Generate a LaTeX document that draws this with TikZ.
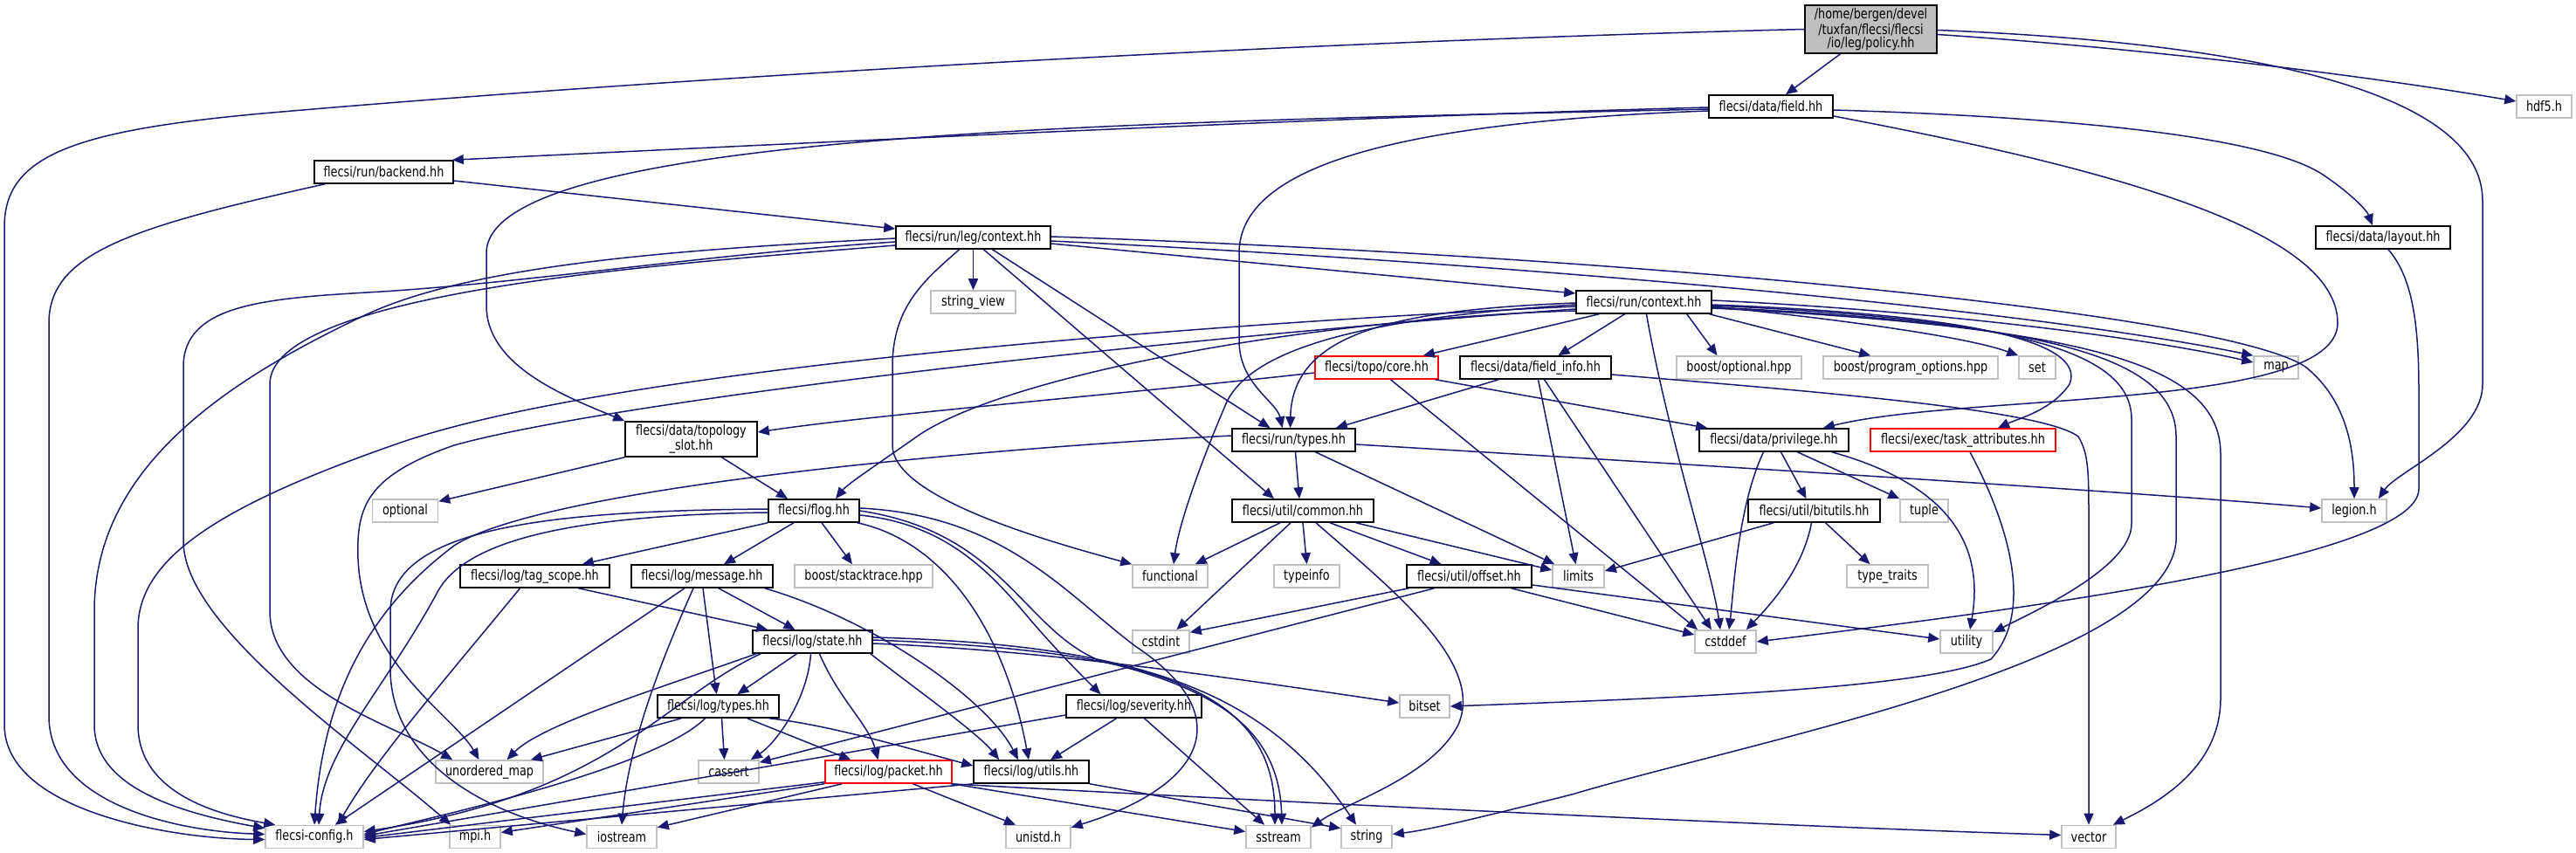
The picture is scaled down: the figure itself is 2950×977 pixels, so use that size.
\documentclass[tikz,border=0pt]{standalone}
\usepackage{fontspec}
\newfontfamily\dfont[FakeStretch=0.8]{DejaVu Sans}
\usetikzlibrary{arrows.meta,calc}
\definecolor{edgec}{HTML}{191970}
\definecolor{sysgray}{HTML}{BFBFBF}
\definecolor{hotred}{HTML}{FF0000}
\begin{document}
\begin{tikzpicture}[x=0.5pt,y=-0.5pt,
  nd/.style={draw=black, line width=0.8pt, fill=white, inner sep=0pt, minimum height=13pt,
    font=\dfont\fontsize{8}{7.6}\selectfont, align=center},
  sys/.style={nd, draw=sysgray},
  hot/.style={nd, draw=hotred},
  wd/.style={minimum width=#1*0.5pt},
  e/.style={draw=edgec, line width=0.75pt, -{Triangle[length=6.5pt,width=5.5pt]}, fill=none}]
\fill[white] (0,0) rectangle (2950,977);
\useasboundingbox (0,0) rectangle (2950,977);

% ---------- nodes ----------
\node[nd, fill=sysgray, wd=151, minimum height=27.5pt] (policy) at (2142.5,33.5) {/home/bergen/devel\\/tuxfan/flecsi/flecsi\\/io/leg/policy.hh};
\node[nd, wd=142] (field) at (2028,122) {flecsi/data/field.hh};
\node[sys, wd=63] (hdf5) at (2913.5,122) {hdf5.h};
\node[nd, wd=159] (backend) at (439.5,197) {flecsi/run/backend.hh};
\node[nd, wd=177] (legctx) at (1114.5,272) {flecsi/run/leg/context.hh};
\node[nd, wd=154] (layout) at (2729,272) {flecsi/data/layout.hh};
\node[sys, wd=97] (stringview) at (1114.5,346) {string\_view};
\node[nd, wd=155] (runctx) at (1882.5,346) {flecsi/run/context.hh};
\node[hot, wd=141] (topocore) at (1576.5,421) {flecsi/topo/core.hh};
\node[nd, wd=173] (fieldinfo) at (1758.5,421) {flecsi/data/field\_info.hh};
\node[sys, wd=143] (boostopt) at (1991.5,421) {boost/optional.hpp};
\node[sys, wd=200] (progopt) at (2188,421) {boost/program\_options.hpp};
\node[sys, wd=42] (set) at (2333,421) {set};
\node[sys, wd=51] (map) at (2606.5,421) {map};
\node[nd, wd=151, minimum height=20pt] (topslot) at (791.5,503) {flecsi/data/topology\\\_slot.hh};
\node[nd, wd=141] (runtypes) at (1481.5,504) {flecsi/run/types.hh};
\node[nd, wd=171] (privilege) at (2031.5,504) {flecsi/data/privilege.hh};
\node[hot, wd=212] (taskattr) at (2248,504) {flecsi/exec/task\_attributes.hh};
\node[sys, wd=75] (optional) at (464,585) {optional};
\node[nd, wd=104] (flog) at (932,585) {flecsi/flog.hh};
\node[nd, wd=162] (common) at (1492,585) {flecsi/util/common.hh};
\node[nd, wd=151] (bitutils) at (2077.5,585) {flecsi/util/bitutils.hh};
\node[sys, wd=55] (tuple) at (2203.5,585) {tuple};
\node[sys, wd=74] (legion) at (2696,585) {legion.h};
\node[nd, wd=171] (tagscope) at (612.5,660) {flecsi/log/tag\_scope.hh};
\node[nd, wd=162] (message) at (804,660) {flecsi/log/message.hh};
\node[sys, wd=158] (stacktrace) at (989,660) {boost/stacktrace.hpp};
\node[sys, wd=86] (functional) at (1340,660) {functional};
\node[sys, wd=75] (typeinfo) at (1496.5,660) {typeinfo};
\node[nd, wd=143] (offset) at (1682.5,660) {flecsi/util/offset.hh};
\node[sys, wd=59] (limits) at (1807.5,660) {limits};
\node[sys, wd=93] (typetraits) at (2161.5,660) {type\_traits};
\node[nd, wd=137] (state) at (930.5,735) {flecsi/log/state.hh};
\node[sys, wd=65] (cstdint) at (1329.5,735) {cstdint};
\node[sys, wd=70] (cstddef) at (1976,735) {cstddef};
\node[sys, wd=60] (utility) at (2252,735) {utility};
\node[nd, wd=139] (logtypes) at (822.5,809) {flecsi/log/types.hh};
\node[nd, wd=155] (severity) at (1298.5,809) {flecsi/log/severity.hh};
\node[sys, wd=57] (bitset) at (1631.5,809) {bitset};
\node[sys, wd=123] (unordmap) at (560.5,884) {unordered\_map};
\node[sys, wd=69] (cassert) at (834.5,884) {cassert};
\node[hot, wd=145] (packet) at (1017.5,884) {flecsi/log/packet.hh};
\node[nd, wd=132] (utils) at (1181,884) {flecsi/log/utils.hh};
\node[sys, wd=112] (config) at (360,958.5) {flecsi-config.h};
\node[sys, wd=58] (mpi) at (544,958.5) {mpi.h};
\node[sys, wd=80] (iostream) at (712,958.5) {iostream};
\node[sys, wd=74] (unistd) at (1189,958.5) {unistd.h};
\node[sys, wd=74] (sstream) at (1464,958.5) {sstream};
\node[sys, wd=58] (string) at (1565,958.5) {string};
\node[sys, wd=62] (vector) at (2392,958.5) {vector};

% ---------- edges ----------
% policy
\draw[e] (policy.west) .. controls (1400,50) and (700,95) .. (300,130) .. controls (80,150) and (5,180) .. (5,260) -- (5,830) .. controls (5,930) and (200,961) .. ($(config.west)+(0,3)$);
\draw[e] ($(policy.south)+(-35,0)$) -- ($(field.north)+(17,0)$);
\draw[e] ($(policy.east)+(0,6)$) .. controls (2450,55) and (2700,85) .. ($(hdf5.west)+(0,-6)$);
\draw[e] ($(policy.east)+(0,1)$) .. controls (2600,50) and (2843,110) .. (2843,230) -- (2843,440) .. controls (2843,500) and (2745,540) .. ($(legion.north east)+(-10,0)$);
% field
\draw[e] ($(field.west)+(0,1)$) .. controls (1500,135) and (900,165) .. ($(backend.north east)+(-2,0)$);
\draw[e] ($(field.west)+(0,3)$) .. controls (1300,140) and (557,150) .. (557,290) -- (557,350) .. controls (557,420) and (650,455) .. (topslot.north west);
\draw[e] ($(field.west)+(0,5)$) .. controls (1600,140) and (1419,190) .. (1419,290) -- (1419,390) .. controls (1419,440) and (1462,460) .. ($(runtypes.north)+(-13,0)$);
\draw[e] ($(field.east)+(0,4)$) .. controls (2400,135) and (2600,160) .. (2660,200) .. controls (2690,220) and (2710,240) .. ($(layout.north)+(-12,0)$);
\draw[e] ($(field.east)+(0,11)$) .. controls (2400,190) and (2677,260) .. (2677,370) .. controls (2677,470) and (2250,450) .. ($(privilege.north east)+(-30,0)$);
% backend
\draw[e] ($(backend.south west)+(13,0)$) .. controls (150,260) and (56,290) .. (56,370) -- (56,820) .. controls (56,920) and (200,952) .. ($(config.west)+(0,-3)$);
\draw[e] ($(backend.east)+(0,10)$) -- ($(legctx.west)+(0,-10)$);
% leg context
\draw[e] ($(legctx.west)+(0,1)$) .. controls (800,285) and (550,300) .. (420,360) .. controls (250,440) and (108,540) .. (108,700) -- (108,830) .. controls (108,900) and (200,930) .. ($(config.north west)+(0,4)$);
\draw[e] ($(legctx.west)+(0,5)$) .. controls (800,292) and (600,325) .. (420,335) .. controls (300,342) and (210,350) .. (210,420) -- (210,620) .. controls (210,720) and (420,860) .. ($(mpi.north west)+(2,0)$);
\draw[e] ($(legctx.west)+(0,9)$) .. controls (800,300) and (309,330) .. (309,440) -- (309,700) .. controls (309,790) and (450,830) .. ($(unordmap.north west)+(20,0)$);
\draw[e] (legctx) -- (stringview);
\draw[e] ($(legctx.south)+(-16,0)$) .. controls (1060,320) and (1022,350) .. (1022,420) -- (1022,510) .. controls (1022,570) and (1200,620) .. (functional.north west);
\draw[e] ($(legctx.south)+(12,0)$) -- ($(common.north)+(-33,0)$);
\draw[e] ($(legctx.south)+(22,0)$) -- ($(runtypes.north)+(-27,0)$);
\draw[e] ($(legctx.east)+(0,7)$) -- ($(runctx.west)+(0,-10)$);
\draw[e] ($(legctx.east)+(0,4)$) .. controls (1700,300) and (2300,350) .. (map.north west);
\draw[e] ($(legctx.east)+(0,-1)$) .. controls (1900,295) and (2550,360) .. (2640,420) .. controls (2690,460) and (2696,520) .. (legion.north);
% run context
\draw[e] ($(runctx.west)+(0,5)$) .. controls (1400,370) and (700,420) .. (450,510) .. controls (250,580) and (158,640) .. (158,720) -- (158,830) .. controls (158,900) and (230,930) .. ($(config.north west)+(12,0)$);
\draw[e] ($(runctx.west)+(0,8)$) .. controls (1300,390) and (700,460) .. (520,510) .. controls (420,545) and (408,580) .. (410,640) .. controls (415,760) and (520,820) .. ($(unordmap.north)+(-12,0)$);
\draw[e] ($(runctx.west)+(0,10)$) .. controls (1500,365) and (1150,430) .. (1050,500) .. controls (1000,535) and (970,555) .. ($(flog.north)+(25,0)$);
\draw[e] ($(runctx.west)+(0,1)$) .. controls (1600,355) and (1480,380) .. ($(runtypes.north)+(-4,0)$);
\draw[e] ($(runctx.west)+(0,3)$) .. controls (1600,362) and (1440,390) .. (1405,460) .. controls (1375,530) and (1350,600) .. ($(functional.north)+(4,0)$);
\draw[e] ($(runctx.south west)+(27,0)$) -- ($(topocore.north east)+(-18,0)$);
\draw[e] ($(runctx.south)+(-22,0)$) -- ($(fieldinfo.north)+(26,0)$);
\draw[e] ($(runctx.south east)+(-29,0)$) -- ($(boostopt.north)+(-25,0)$);
\draw[e] ($(runctx.south east)+(-3,0)$) -- ($(progopt.north west)+(55,0)$);
\draw[e] ($(runctx.east)+(0,5)$) .. controls (2100,365) and (2250,385) .. (set.north west);
\draw[e] ($(runctx.east)+(0,-2)$) .. controls (2200,355) and (2450,385) .. ($(map.west)+(0,-6)$);
\draw[e] ($(runctx.east)+(0,3)$) .. controls (2250,360) and (2390,390) .. (2370,440) .. controls (2350,470) and (2310,480) .. ($(taskattr.north)+(40,0)$);
\draw[e] ($(runctx.east)+(0,4)$) .. controls (2300,365) and (2441,400) .. (2441,480) -- (2441,600) .. controls (2441,650) and (2330,700) .. ($(utility.north east)+(0,3)$);
\draw[e] ($(runctx.east)+(0,6)$) .. controls (2350,370) and (2492,410) .. (2492,500) -- (2492,620) .. controls (2480,760) and (2000,850) .. (1800,910) .. controls (1700,935) and (1640,950) .. ($(string.east)+(0,-3)$);
\draw[e] ($(runctx.east)+(0,7)$) .. controls (2400,375) and (2543,420) .. (2543,520) -- (2543,800) .. controls (2543,880) and (2470,920) .. ($(vector.north east)+(-4,0)$);
\draw[e] ($(runctx.south)+(3,0)$) .. controls (1910,500) and (1960,650) .. ($(cstddef.north)+(-6,0)$);
% topo core
\draw[e] ($(topocore.west)+(0,6)$) .. controls (1300,450) and (1000,475) .. ($(topslot.east)+(0,-8)$);
\draw[e] ($(topocore.south east)+(-4,0)$) -- ($(privilege.north west)+(10,0)$);
\draw[e] ($(topocore.south)+(16,0)$) -- ($(cstddef.north west)+(4,0)$);
% field info
\draw[e] ($(fieldinfo.south west)+(45,0)$) -- ($(runtypes.north east)+(-23,0)$);
\draw[e] ($(fieldinfo.south)+(3,0)$) -- ($(limits.north)+(-3,0)$);
\draw[e] ($(fieldinfo.south)+(10,0)$) -- ($(cstddef.north)+(-16,0)$);
\draw[e] ($(fieldinfo.east)+(0,8)$) .. controls (2100,450) and (2340,470) .. (2380,500) .. controls (2392,520) and (2392,540) .. (2392,600) -- (vector.north);
% run types
\draw[e] ($(runtypes.west)+(0,-5)$) .. controls (1100,515) and (620,560) .. (520,625) .. controls (420,700) and (370,800) .. (config.north);
\draw[e] ($(runtypes.south)+(2,0)$) -- ($(common.north)+(-4,0)$);
\draw[e] ($(runtypes.south)+(25,0)$) -- ($(limits.north west)+(3,0)$);
\draw[e] ($(runtypes.east)+(0,5)$) .. controls (1900,530) and (2400,560) .. ($(legion.west)+(0,-3)$);
% privilege
\draw[e] ($(privilege.south)+(-12,0)$) .. controls (1990,580) and (1985,680) .. ($(cstddef.north)+(4,0)$);
\draw[e] ($(privilege.south)+(8,0)$) -- ($(bitutils.north)+(-9,0)$);
\draw[e] ($(privilege.south)+(27,0)$) -- (tuple.north west);
\draw[e] ($(privilege.south east)+(-20,0)$) .. controls (2250,560) and (2270,640) .. ($(utility.north)+(4,0)$);
% task attributes, layout
\draw[e] ($(taskattr.south)+(8,0)$) .. controls (2300,600) and (2330,700) .. (2280,755) .. controls (2200,790) and (1900,800) .. (bitset.east);
\draw[e] ($(layout.south)+(6,0)$) .. controls (2765,320) and (2770,380) .. (2770,450) -- (2770,560) .. controls (2770,640) and (2300,700) .. (cstddef.east);
% bitutils
\draw[e] ($(bitutils.south west)+(30,0)$) -- ($(limits.east)+(0,-6)$);
\draw[e] ($(bitutils.south)+(-3,0)$) .. controls (2065,650) and (2030,690) .. ($(cstddef.north east)+(-12,0)$);
\draw[e] ($(bitutils.south)+(13,0)$) -- ($(typetraits.north)+(-20,0)$);
% util common
\draw[e] ($(common.south)+(-26,0)$) -- ($(functional.north east)+(-15,0)$);
\draw[e] ($(common.south)+(-14,0)$) -- ($(cstdint.north)+(18,0)$);
\draw[e] (common.south) -- (typeinfo.north);
\draw[e] ($(common.south)+(15,0)$) .. controls (1600,680) and (1700,760) .. (1670,830) .. controls (1640,890) and (1540,920) .. ($(sstream.north east)+(0,3)$);
\draw[e] ($(common.south)+(31,0)$) -- ($(offset.north)+(-32,0)$);
\draw[e] ($(common.south east)+(-21,0)$) -- ($(limits.west)+(0,-7)$);
% offset
\draw[e] ($(offset.south west)+(3,0)$) -- ($(cstdint.north east)+(0,3)$);
\draw[e] ($(offset.south)+(-40,0)$) -- ($(cassert.north east)+(0,3)$);
\draw[e] ($(offset.south east)+(-24,0)$) -- ($(cstddef.west)+(0,-8)$);
\draw[e] ($(offset.east)+(0,10)$) -- ($(utility.west)+(0,-3)$);
% topology slot
\draw[e] (topslot.south west) -- ($(optional.north east)+(0,3)$);
\draw[e] ($(topslot.south)+(35,0)$) -- ($(flog.north)+(-30,0)$);
% flog
\draw[e] (flog.south west) -- ($(tagscope.north east)+(-32,0)$);
\draw[e] ($(flog.south)+(-23,0)$) -- ($(message.north)+(25,0)$);
\draw[e] ($(flog.south)+(9,0)$) -- ($(stacktrace.north)+(-13,0)$);
\draw[e] ($(flog.west)+(0,2)$) .. controls (650,590) and (530,620) .. (500,680) .. controls (440,790) and (370,860) .. ($(config.north)+(5,0)$);
\draw[e] ($(flog.west)+(0,-2)$) .. controls (650,585) and (447,600) .. (447,700) -- (447,770) .. controls (450,870) and (550,930) .. ($(iostream.west)+(0,-3)$);
\draw[e] ($(flog.east)+(0,5)$) .. controls (1080,600) and (1130,650) .. (1180,710) .. controls (1210,745) and (1240,775) .. ($(severity.north)+(-38,0)$);
\draw[e] ($(flog.south east)+(-3,0)$) .. controls (1080,620) and (1150,720) .. ($(utils.north)+(-3,0)$);
\draw[e] ($(flog.east)+(0,-3)$) .. controls (1150,590) and (1220,680) .. (1300,740) .. controls (1420,820) and (1380,900) .. ($(unistd.north east)+(0,3)$);
\draw[e] (flog.east) .. controls (1150,610) and (1170,720) .. (1260,757) .. controls (1400,790) and (1465,840) .. ($(sstream.north)+(4,0)$);
% tag scope, message
\draw[e] ($(tagscope.south)+(50,0)$) -- ($(state.north west)+(18,0)$);
\draw[e] ($(tagscope.south)+(-17,0)$) .. controls (500,790) and (430,870) .. ($(config.north east)+(-30,0)$);
\draw[e] ($(message.south)+(19,0)$) -- ($(state.north)+(-20,0)$);
\draw[e] ($(message.south)+(1,0)$) -- ($(logtypes.north)+(-2,0)$);
\draw[e] ($(message.south)+(-10,0)$) .. controls (760,750) and (720,850) .. (iostream.north);
\draw[e] ($(message.south)+(-20,0)$) -- ($(config.north east)+(-33,0)$);
\draw[e] ($(message.south east)+(-10,0)$) .. controls (1000,710) and (1130,800) .. ($(utils.north)+(-15,0)$);
% state
\draw[e] ($(state.south)+(-18,0)$) -- ($(logtypes.north)+(22,0)$);
\draw[e] ($(state.south west)+(5,0)$) .. controls (750,790) and (620,830) .. ($(unordmap.north)+(20,0)$);
\draw[e] ($(state.south west)+(10,0)$) .. controls (760,800) and (700,910) .. ($(config.east)+(0,-6)$);
\draw[e] ($(state.south)+(-2,0)$) .. controls (925,800) and (890,850) .. ($(cassert.north east)+(-10,0)$);
\draw[e] ($(state.south)+(8,0)$) .. controls (960,800) and (995,830) .. ($(packet.north)+(-12,0)$);
\draw[e] ($(state.south east)+(-3,0)$) .. controls (1050,790) and (1120,840) .. ($(utils.north west)+(30,0)$);
\draw[e] ($(state.east)+(0,2)$) .. controls (1200,745) and (1400,775) .. ($(bitset.west)+(0,-4)$);
\draw[e] ($(state.east)+(0,-2)$) .. controls (1300,745) and (1460,780) .. ($(sstream.north)+(-4,0)$);
\draw[e] ($(state.east)+(0,-5)$) .. controls (1300,738) and (1450,790) .. ($(string.north)+(-12,0)$);
% log types
\draw[e] ($(logtypes.south west)+(28,0)$) -- ($(unordmap.north east)+(-15,0)$);
\draw[e] ($(logtypes.south)+(-15,0)$) .. controls (750,880) and (500,935) .. ($(config.east)+(0,-3)$);
\draw[e] ($(logtypes.south)+(4,0)$) -- ($(cassert.north)+(-5,0)$);
\draw[e] ($(logtypes.south east)+(-37,0)$) -- ($(packet.north west)+(30,0)$);
\draw[e] ($(logtypes.south east)+(-12,0)$) .. controls (950,830) and (1050,860) .. ($(utils.west)+(0,-7)$);
% severity
\draw[e] ($(severity.south)+(-20,0)$) -- ($(utils.north)+(22,0)$);
\draw[e] ($(severity.south)+(12,0)$) -- ($(sstream.north)+(-16,0)$);
\draw[e] ($(severity.west)+(0,10)$) -- ($(config.east)+(0,-1)$);
% packet
\draw[e] ($(packet.south west)+(0,-2)$) -- ($(config.east)+(0,1)$);
\draw[e] (packet.south west) -- ($(mpi.east)+(0,-5)$);
\draw[e] ($(packet.south west)+(20,0)$) -- ($(iostream.north east)+(0,3)$);
\draw[e] ($(packet.south)+(28,0)$) -- ($(unistd.north)+(-26,0)$);
\draw[e] (packet.south east) -- ($(sstream.west)+(0,-6)$);
\draw[e] ($(packet.south east)+(-2,0)$) .. controls (1400,915) and (2000,945) .. ($(vector.west)+(0,-2)$);
% utils
\draw[e] (utils.south west) -- ($(config.east)+(0,3)$);
\draw[e] (utils.south east) -- ($(string.north west)+(0,4)$);
\end{tikzpicture}
\end{document}
